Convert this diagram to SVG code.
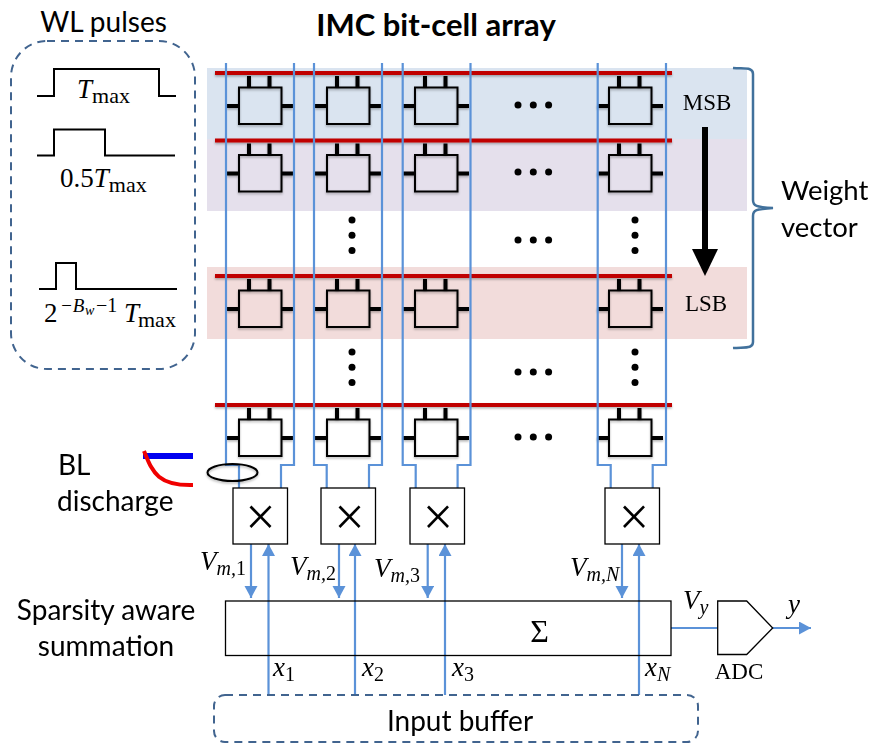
<svg xmlns="http://www.w3.org/2000/svg" width="873" height="743" viewBox="0 0 873 743">
<style>
.sans{font-family:"Lato","Open Sans","Liberation Sans",sans-serif;fill:#000}
.serif{font-family:"Liberation Serif",serif;fill:#000}
.math{font-family:"Liberation Serif",serif;fill:#000;font-style:italic}
.up{font-style:normal}
.cellbox{fill:none;stroke:#000;stroke-width:2}
.stub{stroke:#000;stroke-width:4;fill:none}
.wl{stroke:#c00000;stroke-width:4;fill:none}
.bl{stroke:#5b92d8;stroke-width:2.2;fill:none}
.pulse{stroke:#000;stroke-width:2;fill:none}
.dash{stroke:#41648f;stroke-width:2;fill:none;stroke-dasharray:8 6}
.box{fill:#fff;stroke:#000;stroke-width:1.3}
.arrow{stroke:#5b92d8;stroke-width:2.2;fill:none;marker-end:url(#ah)}
</style>
<defs>
<marker id="ah" markerUnits="userSpaceOnUse" markerWidth="14" markerHeight="14" refX="12" refY="6.5" orient="auto"><path d="M0 0L12 6.5L0 13Z" fill="#5b92d8"/></marker>
<filter id="sh" x="-10%" y="-30%" width="120%" height="170%"><feDropShadow dx="0" dy="1.5" stdDeviation="1.2" flood-color="#000" flood-opacity="0.3"/></filter>
<g id="cell"><rect class="cellbox" x="239" y="87.5" width="42.5" height="36.5"/><path class="stub" d="M249 76V87M269.500 76V87M227 106H239M281.500 106H293"/></g>
<g id="d"><circle cx="0" cy="0" r="3.500" fill="#000"/><circle cx="15.300" cy="0" r="3.500" fill="#000"/><circle cx="30.600" cy="0" r="3.500" fill="#000"/></g>
<g id="v"><circle cx="0" cy="0" r="3.500" fill="#000"/><circle cx="0" cy="15.300" r="3.500" fill="#000"/><circle cx="0" cy="30.600" r="3.500" fill="#000"/></g>
</defs>
<rect width="873" height="743" fill="#fff"/>
<g id="bands">
<rect x="207" y="68" width="540" height="71" fill="#dae4f0"/>
<rect x="207" y="139" width="540" height="72" fill="#e5e0ec"/>
<rect x="207" y="267" width="540" height="72" fill="#f2dcdb"/>
</g>
<g id="title"><text class="sans" x="436" y="36" font-size="31" font-weight="700" text-anchor="middle">IMC bit-cell array</text>
<text class="sans" x="103.500" y="32" font-size="28" text-anchor="middle">WL pulses</text></g>
<g id="wl-pulses">
<rect class="dash" x="11" y="41" width="184" height="328" rx="36"/>
<path class="pulse" d="M37 96H54V69H159V96H176"/>
<path class="pulse" d="M37 155.500H54V129.500H105V155.500H175"/>
<path class="pulse" d="M39 289H56V263H76V289H177"/>
<text class="math" x="77" y="98" font-size="27">T<tspan class="up" font-size="22" dy="5">max</tspan></text>
<text class="math" x="60" y="187" font-size="27"><tspan class="up">0.5</tspan>T<tspan class="up" font-size="22" dy="5">max</tspan></text>
<text class="math" x="44" y="322" font-size="27"><tspan class="up">2</tspan><tspan x="60" font-size="19" dy="-10">−B</tspan><tspan x="85" font-size="14" dy="3">w</tspan><tspan x="96" class="up" font-size="20" dy="-3">−1</tspan><tspan x="124" dy="10">T</tspan><tspan x="138" class="up" font-size="22" dy="5">max</tspan></text>
</g>
<g id="cells" filter="url(#sh)">
<use href="#cell"/><use href="#cell" x="88"/><use href="#cell" x="176"/><use href="#cell" x="370"/>
<use href="#cell" y="67.500"/><use href="#cell" x="88" y="67.500"/><use href="#cell" x="176" y="67.500"/><use href="#cell" x="370" y="67.500"/>
<use href="#cell" y="203"/><use href="#cell" x="88" y="203"/><use href="#cell" x="176" y="203"/><use href="#cell" x="370" y="203"/>
<use href="#cell" y="332"/><use href="#cell" x="88" y="332"/><use href="#cell" x="176" y="332"/><use href="#cell" x="370" y="332"/>
</g>
<g id="wordlines" filter="url(#sh)">
<path class="wl" d="M215 73H672M215 140.500H672M215 276H672M215 405H672"/>
</g>
<g id="dots">
<use href="#d" x="518" y="105"/><use href="#d" x="518" y="172"/><use href="#d" x="518" y="240"/><use href="#d" x="518" y="372"/><use href="#d" x="518" y="437"/>
<use href="#v" x="352" y="220"/><use href="#v" x="635" y="220"/><use href="#v" x="352" y="352"/><use href="#v" x="635" y="352"/>
</g>
<g id="connectors">
<path class="bl" d="M226 63V465H239V488M294 63V465H281V488"/>
<path class="bl" d="M314 63V465H326.700V488M382 63V465H369V488"/>
<path class="bl" d="M402.700 63V465H415.700V488M470.500 63V465H457.600V488"/>
<path class="bl" d="M597.700 63V465H610.700V488M666 63V465H652.700V488"/>
<path class="arrow" d="M251 544V598"/><path class="arrow" d="M339 544V598"/><path class="arrow" d="M427.700 544V598"/><path class="arrow" d="M622 544V598"/>
<path class="arrow" d="M268.500 695V544"/><path class="arrow" d="M355 695V544"/><path class="arrow" d="M445 695V544"/><path class="arrow" d="M639 695V544"/>
<path class="bl" d="M671 628H718"/>
<path class="arrow" d="M773 628H811"/>
</g>
<g id="mult1"><rect class="box" x="233" y="488" width="54.500" height="56"/><text class="serif" x="260.500" y="535" font-size="54" text-anchor="middle">×</text></g>
<g id="mult2"><rect class="box" x="321" y="488" width="54.500" height="56"/><text class="serif" x="349.500" y="535" font-size="54" text-anchor="middle">×</text></g>
<g id="mult3"><rect class="box" x="410" y="488" width="54.500" height="56"/><text class="serif" x="438" y="535" font-size="54" text-anchor="middle">×</text></g>
<g id="multN"><rect class="box" x="605" y="488" width="54.500" height="56"/><text class="serif" x="634" y="535" font-size="54" text-anchor="middle">×</text></g>
<g id="sum"><rect class="box" x="225.500" y="601" width="445.500" height="54.500" style="fill:none"/><text class="serif" x="539.500" y="642" font-size="32" text-anchor="middle">Σ</text></g>
<g id="adc"><path class="box" d="M717.700 601H746.700L772.700 628L746.700 654.500H717.700Z"/><text class="serif" x="739" y="679" font-size="23" text-anchor="middle">ADC</text></g>
<g id="input-buffer"><rect class="dash" x="214" y="695" width="484" height="47" rx="11"/><text class="sans" x="460" y="731" font-size="28" text-anchor="middle">Input buffer</text></g>
<g id="brace"><path d="M733 68C745 69 753 67 753 74V200C753 206 756 207 773 208C756 209 753 210 753 216V342C753 349 745 347 733 348" fill="none" stroke="#41719c" stroke-width="2.500"/></g>
<g id="labels">
<text class="serif" x="707" y="110" font-size="23" text-anchor="middle">MSB</text>
<text class="serif" x="706" y="311" font-size="23" text-anchor="middle">LSB</text>
<text class="sans" x="781" y="200" font-size="27.500">Weight</text>
<text class="sans" x="781" y="237" font-size="27.500">vector</text>
<text class="sans" x="58" y="475" font-size="28">BL</text>
<text class="sans" x="57" y="511" font-size="28">discharge</text>
<text class="sans" x="106" y="620" font-size="28" text-anchor="middle">Sparsity aware</text>
<text class="sans" x="106" y="656" font-size="28" text-anchor="middle">summation</text>
<text class="math" x="200" y="570" font-size="27">V<tspan font-size="20" dy="5">m,</tspan><tspan class="up" font-size="20">1</tspan></text>
<text class="math" x="290" y="575" font-size="27">V<tspan font-size="20" dy="5">m,</tspan><tspan class="up" font-size="20">2</tspan></text>
<text class="math" x="374" y="577" font-size="27">V<tspan font-size="20" dy="5">m,</tspan><tspan class="up" font-size="20">3</tspan></text>
<text class="math" x="570" y="576" font-size="27">V<tspan font-size="20" dy="5">m,N</tspan></text>
<text class="math" x="683" y="609" font-size="27">V<tspan font-size="20" dy="5">y</tspan></text>
<text class="math" x="788" y="613" font-size="27">y</text>
<text class="math" x="273" y="676" font-size="27">x<tspan class="up" font-size="20" dy="5">1</tspan></text>
<text class="math" x="362" y="676" font-size="27">x<tspan class="up" font-size="20" dy="5">2</tspan></text>
<text class="math" x="452" y="676" font-size="27">x<tspan class="up" font-size="20" dy="5">3</tspan></text>
<text class="math" x="645" y="676" font-size="27">x<tspan font-size="20" dy="5">N</tspan></text>
</g>
<g id="msb-lsb-arrow"><path d="M705 127V249" stroke="#000" stroke-width="6" fill="none"/><path d="M692 249H718L705 276Z" fill="#000"/></g>
<g id="bl-discharge">
<path d="M143 456H193" stroke="#0000f0" stroke-width="6" fill="none"/>
<path d="M144 451C152 470 156 486 193 485" stroke="#f00000" stroke-width="4" fill="none"/>
<ellipse cx="232.500" cy="472.500" rx="25" ry="8.500" fill="none" stroke="#000" stroke-width="2" filter="url(#sh)"/>
</g>
</svg>
